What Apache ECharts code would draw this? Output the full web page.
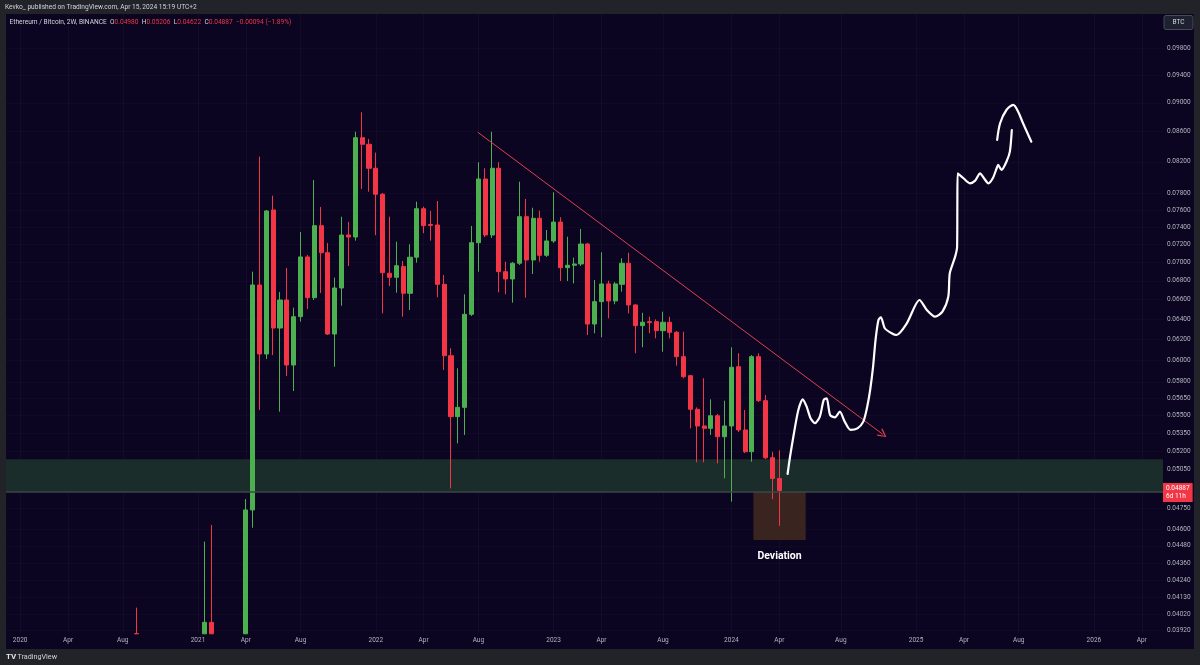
<!DOCTYPE html>
<html><head><meta charset="utf-8">
<script src="https://cdn.jsdelivr.net/npm/echarts@6/dist/echarts.min.js"></script>
<style>html,body{margin:0;padding:0;background:#212329}#c{width:1200px;height:665px}</style>
</head><body><div id="c"></div>
<script>
// ---------- data ----------
const candleDates = ['2020-08-31','2021-01-18','2021-02-01','2021-04-12',
'2021-04-26','2021-05-10','2021-05-24','2021-06-07','2021-06-21','2021-07-05','2021-07-19','2021-08-02','2021-08-16','2021-08-30',
'2021-09-13','2021-09-27','2021-10-11','2021-10-25','2021-11-08','2021-11-22','2021-12-06','2021-12-20','2022-01-03','2022-01-17',
'2022-01-31','2022-02-14','2022-02-28','2022-03-14','2022-03-28','2022-04-11','2022-04-25','2022-05-09','2022-05-23','2022-06-06',
'2022-06-20','2022-07-04','2022-07-18','2022-08-01','2022-08-15','2022-08-29','2022-09-12','2022-09-26','2022-10-10','2022-10-24',
'2022-11-07','2022-11-21','2022-12-05','2022-12-19','2023-01-02','2023-01-16','2023-01-30','2023-02-13','2023-02-27','2023-03-13',
'2023-03-27','2023-04-10','2023-04-24','2023-05-08','2023-05-22','2023-06-05','2023-06-19','2023-07-03','2023-07-17','2023-07-31',
'2023-08-14','2023-08-28','2023-09-11','2023-09-25','2023-10-09','2023-10-23','2023-11-06','2023-11-20','2023-12-04','2023-12-18',
'2024-01-01','2024-01-15','2024-01-29','2024-02-12','2024-02-26','2024-03-11','2024-03-25','2024-04-08'];
// (first four candles only peek in from below the visible range; their lower values sit at the bottom edge)
const opens = [0.03902,0.03900,0.03971,0.03900,
0.04740,0.06755,0.06059,0.07602,0.06312,0.06597,0.05955,0.06426,0.07060,0.06621,
0.07416,0.07107,0.06253,0.06723,0.07308,0.07285,0.08518,0.08430,0.08118,0.07792,
0.06881,0.06837,0.06953,0.06667,0.07057,0.07617,0.07430,0.07424,0.06762,0.06043,
0.05490,0.05571,0.06450,0.07220,0.07982,0.07308,0.08118,0.06898,0.06819,0.06990,
0.07522,0.07026,0.07503,0.07078,0.07240,0.07458,0.06942,0.06968,0.06982,0.07205,
0.06352,0.06580,0.06766,0.06587,0.06762,0.06990,0.06546,0.06336,0.06376,0.06376,
0.06286,0.06370,0.06270,0.06034,0.05856,0.05554,0.05410,0.05390,0.05498,0.05319,
0.05410,0.05939,0.05376,0.05195,0.06034,0.05630,0.05146,0.04980];
const highs = [0.04064,0.04509,0.04629,0.04822,
0.06898,0.08267,0.07602,0.07775,0.06681,0.06938,0.06518,0.07343,0.07082,0.07969,
0.07638,0.07217,0.06833,0.07522,0.07460,0.08599,0.08866,0.08501,0.08320,0.07808,
0.07522,0.07232,0.07015,0.07202,0.07702,0.07641,0.07590,0.07710,0.06862,0.06114,
0.05924,0.06657,0.07413,0.08195,0.08118,0.08599,0.08195,0.07007,0.07004,0.07948,
0.07735,0.07629,0.07593,0.07366,0.07817,0.07515,0.07289,0.07052,0.07378,0.07217,
0.06808,0.07112,0.06801,0.06786,0.07045,0.07107,0.06553,0.06466,0.06426,0.06399,
0.06477,0.06426,0.06283,0.06276,0.05862,0.05571,0.05832,0.05642,0.05513,0.05630,
0.06124,0.06066,0.05548,0.06049,0.06066,0.05680,0.05195,0.05206];
const lows = [0.03899,0.03899,0.03899,0.03899,
0.04609,0.05548,0.06011,0.06049,0.05533,0.05853,0.05716,0.06376,0.06504,0.06597,
0.06670,0.06243,0.05939,0.06538,0.06960,0.07243,0.07857,0.07824,0.07305,0.06460,
0.06744,0.06673,0.06426,0.06494,0.06996,0.07328,0.07243,0.06625,0.05909,0.04904,
0.05264,0.05334,0.06433,0.06898,0.07285,0.07274,0.06678,0.06657,0.06569,0.06971,
0.06621,0.06873,0.07007,0.07060,0.07217,0.06797,0.06797,0.06772,0.06960,0.06243,
0.06260,0.06221,0.06409,0.06553,0.06684,0.06460,0.06066,0.06124,0.06260,0.06211,
0.06081,0.06211,0.05949,0.05832,0.05390,0.05109,0.05109,0.05334,0.05101,0.04982,
0.04802,0.05359,0.05184,0.05114,0.05618,0.05135,0.04820,0.04622];
const closes = [0.03900,0.03971,0.03900,0.04740,
0.06755,0.06059,0.07590,0.06312,0.06597,0.05955,0.06426,0.07060,0.06621,0.07416,
0.07107,0.06253,0.06723,0.07308,0.07285,0.08518,0.08430,0.08118,0.07792,0.06887,
0.06837,0.06963,0.06667,0.07057,0.07617,0.07416,0.07419,0.06762,0.06043,0.05490,
0.05571,0.06450,0.07220,0.07982,0.07308,0.08118,0.06898,0.06819,0.06990,0.07522,
0.07026,0.07503,0.07078,0.07240,0.07458,0.06942,0.06968,0.06982,0.07205,0.06352,
0.06580,0.06766,0.06587,0.06766,0.06990,0.06546,0.06336,0.06370,0.06366,0.06286,
0.06370,0.06270,0.06034,0.05847,0.05554,0.05410,0.05390,0.05498,0.05319,0.05410,
0.05934,0.05376,0.05195,0.06034,0.05630,0.05146,0.04981,0.04887];

const priceTicks = [0.0392,0.0402,0.0413,0.0424,0.0436,0.0448,0.046,0.0475,0.0505,0.052,0.0535,0.055,0.0565,0.058,
0.060,0.062,0.064,0.066,0.068,0.070,0.072,0.074,0.076,0.078,0.082,0.086,0.090,0.094,0.098];
const timeTicks = ['2020-01-06','2020-04-13','2020-08-03','2021-01-04','2021-04-12','2021-08-02','2022-01-03','2022-04-11',
'2022-08-01','2023-01-02','2023-04-10','2023-08-14','2024-01-01','2024-04-08','2024-08-12','2025-01-13','2025-04-21',
'2025-08-11','2026-01-12','2026-04-20'];
const monthNames = ['Jan','Feb','Mar','Apr','May','Jun','Jul','Aug','Sep','Oct','Nov','Dec'];
const timeRange = ['2019-12-08','2026-06-02T12'];
const priceRange = [0.039049, 0.10350];

// support zone and deviation box
const zoneTop = 0.05133, zoneBottom = 0.04878;
const boxDates = ['2024-02-15','2024-06-01'];
const boxBottom = 0.04521;
// descending trend line
const trendDates = ['2022-07-31','2024-11-06'];
const trendPrices = [0.08591,0.05339];
// hand-drawn projection path
const pathDates1 = ['2024-04-25','2024-04-30','2024-05-08','2024-05-17','2024-05-26','2024-06-03','2024-06-11','2024-06-20','2024-06-30',
'2024-07-08','2024-07-14','2024-07-21','2024-07-31','2024-08-10','2024-08-20','2024-09-01','2024-09-15','2024-09-27','2024-10-05',
'2024-10-11','2024-10-17','2024-10-22','2024-10-28','2024-11-02','2024-11-10','2024-11-24','2024-12-04','2024-12-25','2025-01-20',
'2025-02-04','2025-02-21','2025-03-08','2025-03-20','2025-03-23','2025-04-03','2025-04-07','2025-04-07T12','2025-04-08','2025-04-20',
'2025-05-03','2025-05-14','2025-05-24','2025-06-01','2025-06-10','2025-06-19','2025-06-27','2025-06-30','2025-07-07','2025-07-17',
'2025-07-24','2025-07-28'];
const pathPrices1 = [0.05016,0.05154,0.05348,0.05548,0.05642,0.05577,0.05476,0.05433,0.05490,
0.05636,0.05651,0.05504,0.05484,0.05533,0.05447,0.05376,0.05390,0.05447,0.05577,
0.05725,0.05939,0.06194,0.06393,0.06420,0.06310,0.06260,0.06243,0.06359,0.06597,
0.06494,0.06426,0.06477,0.06632,0.06881,0.07063,0.07175,0.07641,0.08054,0.07991,
0.07928,0.07961,0.08054,0.07991,0.07928,0.07991,0.08118,0.08160,0.08096,0.08202,
0.08333,0.08622];
const pathDates2 = ['2025-06-28','2025-07-04','2025-07-17','2025-07-31','2025-08-10','2025-08-20','2025-09-06'];
const pathPrices2 = [0.08488,0.08714,0.08898,0.08969,0.08874,0.08714,0.08465];

// ---------- build ----------
const fontFamily = 'Roboto, "Liberation Sans", sans-serif';
const t = s => { const [d, h] = s.split('T'); const [y, m, dd] = d.split('-').map(Number); return new Date(y, m - 1, dd, h ? Number(h) : 0).getTime(); };
const candleData = candleDates.map((d, i) => [t(d), opens[i], closes[i], lows[i], highs[i]]);
const path1 = pathDates1.map((d, i) => [t(d), pathPrices1[i]]);
const path2 = pathDates2.map((d, i) => [t(d), pathPrices2[i]]);
const n = closes.length;
const lastO = opens[n-1], lastH = highs[n-1], lastL = lows[n-1], lastC = closes[n-1];
const chg = lastC - closes[n-2];
const pct = chg / closes[n-2] * 100;
const fmt = v => v.toFixed(5);
const chgTxt = (chg < 0 ? '\u2212' : '+') + Math.abs(chg).toFixed(5) + ' (' + (pct < 0 ? '\u2212' : '+') + Math.abs(pct).toFixed(2) + '%)';
const timeTickValues = timeTicks.map(t);
const xMin = t(timeRange[0]), xMax = t(timeRange[1]);

const RED = '#f23645', GREEN = '#4caf50';
const chart = echarts.init(document.getElementById('c'), null, {renderer: 'canvas'});
chart.setOption({
  animation: false,
  backgroundColor: '#212329',
  textStyle: {fontFamily},
  grid: {left: 6, right: 37, top: 14, bottom: 32, outerBoundsMode: 'none'},
  xAxis: {
    type: 'value', min: xMin, max: xMax,
    axisLine: {show: false}, axisTick: {show: false, customValues: timeTickValues},
    axisLabel: {customValues: timeTickValues, color: '#b2b5be', fontSize: 6.5, margin: 4, fontFamily,
      formatter: v => { const d = new Date(v); return d.getMonth() === 0 ? String(d.getFullYear()) : monthNames[d.getMonth()]; }},
    splitLine: {show: true, lineStyle: {color: 'rgba(255,255,255,0.03)', width: 1}}
  },
  yAxis: {
    type: 'log', logBase: 10, position: 'right', min: priceRange[0], max: priceRange[1],
    axisLine: {show: false}, axisTick: {show: false, customValues: priceTicks},
    axisLabel: {customValues: priceTicks, formatter: v => Number(v).toFixed(5), color: '#b2b5be', fontSize: 6.5, margin: 4, fontFamily},
    splitLine: {show: true, lineStyle: {color: 'rgba(255,255,255,0.025)', width: 1}}
  },
  series: [
    {
      type: 'line', data: [], z: 1, silent: true,
      markArea: {silent: true, data: [
        [{coord: [xMin, zoneTop], itemStyle: {color: '#1b2d2b'}, label: {show: false}}, {coord: [xMax, zoneBottom]}],
        [{coord: [t(boxDates[0]), zoneBottom], itemStyle: {color: '#3a2420'},
          label: {show: true, position: 'bottom', distance: 11, formatter: 'Deviation', color: '#ffffff', fontSize: 10.5, fontWeight: 'bold', fontFamily}},
         {coord: [t(boxDates[1]), boxBottom]}]
      ]},
      markLine: {silent: true, symbol: ['none', 'none'], label: {show: false},
        lineStyle: {color: '#3c4846', width: 1.5, type: 'solid'},
        data: [[{coord: [xMin, zoneBottom]}, {coord: [xMax, zoneBottom]}]]}
    },
    {
      type: 'candlestick', data: candleData, encode: {x: 0, y: [1, 2, 3, 4]}, z: 3, barWidth: 4.6, clip: true,
      itemStyle: {color: GREEN, color0: RED, borderColor: GREEN, borderColor0: RED, borderWidth: 1}
    },
    {
      type: 'line', data: [], z: 6, silent: true,
      markLine: {silent: true, symbol: ['none', 'none'],
        lineStyle: {color: 'rgba(0,0,0,0)', width: 1},
        data: [[{coord: [xMin, lastC]}, {coord: [xMax, lastC]}]],
        label: {show: true, position: 'end', distance: 0, formatter: fmt(lastC) + '\n6d 11h', backgroundColor: RED, color: '#ffffff',
          fontSize: 6.5, lineHeight: 7.5, padding: [2, 3, 2, 3], align: 'left', verticalAlign: 'middle', offset: [0, 2], fontFamily}}
    },
    {
      type: 'line', data: [], z: 4, silent: true,
      markLine: {silent: true, symbol: ['none', 'path://M5,0 L10,8 L8.8,8.7 L5,2.3 L1.2,8.7 L0,8 Z'], symbolSize: 9,
        label: {show: false}, lineStyle: {color: '#e0404c', width: 1, type: 'solid'},
        data: [[{coord: [t(trendDates[0]), trendPrices[0]]}, {coord: [t(trendDates[1]), trendPrices[1]]}]]}
    },
    {type: 'line', data: path1, z: 5, silent: true, showSymbol: false, smooth: 0.25,
      lineStyle: {color: '#ffffff', width: 2.2, cap: 'round', join: 'round'}},
    {type: 'line', data: path2, z: 5, silent: true, showSymbol: false, smooth: 0.3,
      lineStyle: {color: '#ffffff', width: 2.2, cap: 'round', join: 'round'}}
  ],
  graphic: [
    {type: 'rect', z: -1, silent: true, shape: {x: 6, y: 14, width: 1188, height: 635}, style: {fill: '#0b0522'}},
    {type: 'text', z: 10, silent: true, x: 5, y: 7, style: {text: 'Kevko_ published on TradingView.com, Apr 15, 2024 15:19 UTC+2',
      fill: '#d1d4dc', font: '6.6px ' + fontFamily, verticalAlign: 'middle'}},
    {type: 'text', z: 10, silent: true, x: 9.5, y: 22, style: {
      text: '{n|Ethereum / Bitcoin, 2W, BINANCE}  {k|O}{v|' + fmt(lastO) + '}  {k|H}{v|' + fmt(lastH) + '}  {k|L}{v|' + fmt(lastL) + '}  {k|C}{v|' + fmt(lastC) + '}  {v|' + chgTxt + '}',
      verticalAlign: 'middle', font: '6.6px ' + fontFamily,
      rich: {n: {fill: '#d1d4dc', fontSize: 6.6, fontFamily}, k: {fill: '#d1d4dc', fontSize: 6.6, fontFamily}, v: {fill: RED, fontSize: 6.6, fontFamily}}}},
    {type: 'rect', z: 10, silent: true, shape: {x: 1164, y: 15.5, width: 29, height: 14, r: 2}, style: {fill: '#1e2230', stroke: '#474b57', lineWidth: 1}},
    {type: 'text', z: 11, silent: true, x: 1178.5, y: 22.5, style: {text: 'BTC', fill: '#d1d4dc', font: '6.5px ' + fontFamily, align: 'center', verticalAlign: 'middle'}},
    {type: 'text', z: 10, silent: true, x: 6, y: 657, style: {text: 'TV', fill: '#e0e3eb', font: 'bold 8px ' + fontFamily, verticalAlign: 'middle'}},
    {type: 'text', z: 10, silent: true, x: 17.5, y: 657, style: {text: 'TradingView', fill: '#d1d4dc', font: '7.2px ' + fontFamily, verticalAlign: 'middle'}}
  ]
});
</script>
</body></html>
